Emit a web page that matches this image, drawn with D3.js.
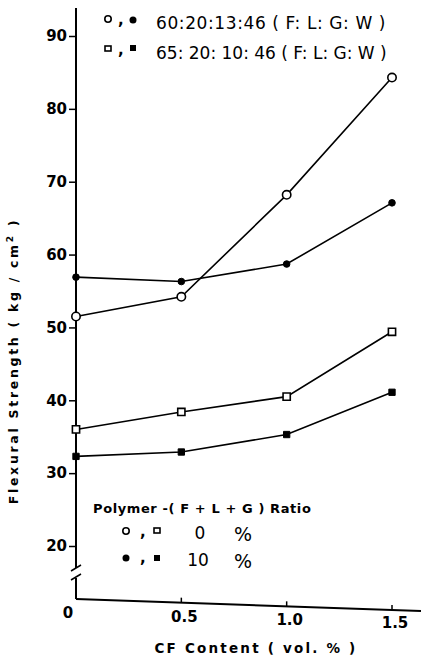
<!DOCTYPE html>
<html><head><meta charset="utf-8">
<script src="https://cdn.jsdelivr.net/npm/d3@7"></script>
<style>body{margin:0;background:#fff}svg{display:block}text{font-family:"DejaVu Sans",sans-serif;fill:#000}</style>
</head><body>
<script>
const cfContent = [0, 0.5, 1.0, 1.5];
const openCircle = [51.5, 54.2, 68.2, 84.3];   // 60:20:13:46, 0%
const filledCircle = [56.9, 56.3, 58.7, 67.1]; // 60:20:13:46, 10%
const openSquare = [36.0, 38.4, 40.5, 49.4];   // 65:20:10:46, 0%
const filledSquare = [32.3, 32.9, 35.3, 41.1]; // 65:20:10:46, 10%
const yTicks = [20, 30, 40, 50, 60, 70, 80, 90];
const xTicks = [0.5, 1.0, 1.5];
const xTickLabels = ["0.5", "1.0", "1.5"];

const W = 421, H = 660;
const svg = d3.select("body").append("svg").attr("width", W).attr("height", H);
const x = d3.scaleLinear().domain([0, 1.5]).range([76, 392]);
const y = d3.scaleLinear().domain([20, 90]).range([546, 36]);
// slightly tilted x-axis baseline (as in the scanned figure)
const axisBase = px => 599 + (px - 76) * 0.0348;

// Y axis
const yAxis = d3.axisLeft(y).tickValues(yTicks).tickSize(7).tickPadding(1).tickFormat(d3.format("d"));
const gy = svg.append("g").attr("transform", "translate(76,0)").call(yAxis);
gy.select(".domain").remove();
gy.selectAll("line").attr("stroke", "#000").attr("stroke-width", 1.5);
gy.selectAll("text").attr("font-size", 15).attr("font-weight", "bold").attr("dx", "-1");
svg.append("line").attr("x1", 76).attr("x2", 76).attr("y1", 8).attr("y2", 568).attr("stroke", "#000").attr("stroke-width", 2);
svg.append("line").attr("x1", 76).attr("x2", 76).attr("y1", 578).attr("y2", 599).attr("stroke", "#000").attr("stroke-width", 2);
svg.append("line").attr("x1", 71).attr("x2", 81).attr("y1", 571).attr("y2", 565).attr("stroke", "#000").attr("stroke-width", 1.5);
svg.append("line").attr("x1", 71).attr("x2", 81).attr("y1", 580).attr("y2", 574).attr("stroke", "#000").attr("stroke-width", 1.5);

// X axis
svg.append("line").attr("x1", 76).attr("x2", 421).attr("y1", axisBase(76)).attr("y2", axisBase(421)).attr("stroke", "#000").attr("stroke-width", 2);
svg.selectAll(".xt").data(xTicks).enter().append("line")
  .attr("x1", d => x(d)).attr("x2", d => x(d))
  .attr("y1", d => axisBase(x(d))).attr("y2", d => axisBase(x(d)) - 5)
  .attr("stroke", "#000").attr("stroke-width", 1.5);
svg.append("text").attr("x", 68).attr("y", 618).attr("text-anchor", "middle").attr("font-size", 15).attr("font-weight", "bold").text("0");
svg.selectAll(".xl").data(xTicks).enter().append("text")
  .attr("x", d => x(d) + 3).attr("y", (d, i) => 622 + i * 3).attr("text-anchor", "middle")
  .attr("font-size", 15).attr("font-weight", "bold").text((d, i) => xTickLabels[i]);
svg.append("text").attr("x", 256).attr("y", 653).attr("text-anchor", "middle").attr("font-size", 13.5)
  .attr("font-weight", "bold").attr("letter-spacing", 2.2).text("CF  Content  ( vol. % )");
svg.append("text").attr("transform", "translate(18,361) rotate(-90)").attr("text-anchor", "middle")
  .attr("font-size", 12.5).attr("font-weight", "bold").attr("letter-spacing", 2.7)
  .html("Flexural  Strength  ( kg / cm<tspan dy='-5' font-size='9'>2</tspan><tspan dy='5'> )</tspan>");

// series
const line = d3.line().x((d, i) => x(cfContent[i])).y(d => y(d));
const series = [
  {v: openCircle, shape: "circle", fill: "#fff"},
  {v: filledCircle, shape: "circle", fill: "#000"},
  {v: openSquare, shape: "square", fill: "#fff"},
  {v: filledSquare, shape: "square", fill: "#000"}
];
series.forEach(s => {
  svg.append("path").datum(s.v).attr("d", line).attr("fill", "none").attr("stroke", "#000").attr("stroke-width", 1.6);
});
series.forEach(s => {
  const g = svg.append("g");
  if (s.shape === "circle") {
    g.selectAll("circle").data(s.v).enter().append("circle")
      .attr("cx", (d, i) => x(cfContent[i])).attr("cy", d => y(d))
      .attr("r", s.fill === "#000" ? 3.3 : 4.2).attr("fill", s.fill).attr("stroke", "#000")
      .attr("stroke-width", s.fill === "#000" ? 1 : 1.6);
  } else {
    g.selectAll("path").data(s.v).enter().append("path")
      .attr("d", d3.symbol().type(d3.symbolSquare).size(s.fill === "#000" ? 40 : 52))
      .attr("transform", (d, i) => `translate(${x(cfContent[i])},${y(d)})`)
      .attr("fill", s.fill).attr("stroke", "#000").attr("stroke-width", s.fill === "#000" ? 1 : 1.6);
  }
});

// top legend
const leg = svg.append("g");
leg.append("circle").attr("cx", 108).attr("cy", 19).attr("r", 3.2).attr("fill", "#fff").attr("stroke", "#000").attr("stroke-width", 1.6);
leg.append("text").attr("x", 118).attr("y", 25).attr("font-size", 15).attr("font-weight", "bold").text(",");
leg.append("circle").attr("cx", 133).attr("cy", 20).attr("r", 3.5).attr("fill", "#000");
leg.append("text").attr("x", 156).attr("y", 29).attr("font-size", 17).attr("letter-spacing", 0.6).text("60:20:13:46 ( F: L: G: W )");
leg.append("rect").attr("x", 105).attr("y", 46).attr("width", 6).attr("height", 5).attr("fill", "#fff").attr("stroke", "#000").attr("stroke-width", 1.6);
leg.append("text").attr("x", 118).attr("y", 55).attr("font-size", 15).attr("font-weight", "bold").text(",");
leg.append("rect").attr("x", 130).attr("y", 45).attr("width", 6).attr("height", 6).attr("fill", "#000");
leg.append("text").attr("x", 156).attr("y", 59).attr("font-size", 17).text("65: 20: 10: 46 ( F: L: G: W )");

// bottom legend
const leg2 = svg.append("g");
leg2.append("text").attr("x", 93).attr("y", 513).attr("font-size", 13).attr("font-weight", "bold").attr("letter-spacing", 0.6).text("Polymer  -( F + L + G ) Ratio");
leg2.append("circle").attr("cx", 126).attr("cy", 531).attr("r", 3.2).attr("fill", "#fff").attr("stroke", "#000").attr("stroke-width", 1.6);
leg2.append("text").attr("x", 140).attr("y", 537).attr("font-size", 15).attr("font-weight", "bold").text(",");
leg2.append("rect").attr("x", 154).attr("y", 528).attr("width", 6).attr("height", 5).attr("fill", "#fff").attr("stroke", "#000").attr("stroke-width", 1.6);
leg2.append("text").attr("x", 200).attr("y", 539).attr("text-anchor", "middle").attr("font-size", 17).text("0");
leg2.append("text").attr("x", 243).attr("y", 541).attr("text-anchor", "middle").attr("font-size", 19).text("%");
leg2.append("circle").attr("cx", 126).attr("cy", 558).attr("r", 3.5).attr("fill", "#000");
leg2.append("text").attr("x", 140).attr("y", 563).attr("font-size", 15).attr("font-weight", "bold").text(",");
leg2.append("rect").attr("x", 154).attr("y", 555).attr("width", 6).attr("height", 6).attr("fill", "#000");
leg2.append("text").attr("x", 198).attr("y", 566).attr("text-anchor", "middle").attr("font-size", 17).text("10");
leg2.append("text").attr("x", 243).attr("y", 568).attr("text-anchor", "middle").attr("font-size", 19).text("%");
</script>
</body></html>
